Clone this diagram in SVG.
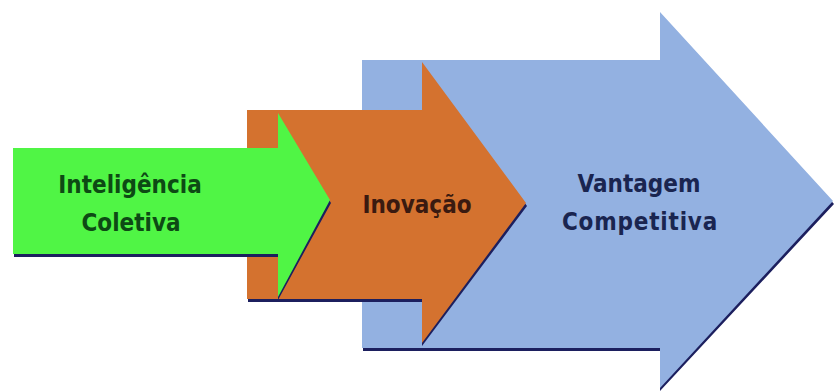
<svg xmlns="http://www.w3.org/2000/svg" width="835" height="392" viewBox="0 0 835 392">
<style>
.sh{fill:#1c1f5e}
.lbl{font-family:"DejaVu Sans Condensed","DejaVu Sans",sans-serif;font-weight:bold;font-size:24px;text-anchor:middle}
</style>
<rect width="835" height="392" fill="#ffffff"/>
<g id="vantagem">
<polygon class="sh" points="363,63 660,63 660,15 834,204 660,391 660,351 363,351"/>
<polygon fill="#93b1e1" points="362,60 660,60 660,12 833,201 660,388 660,348 362,348"/>
<text class="lbl" fill="#1a2550" x="639" y="192">Vantagem</text>
<text class="lbl" fill="#1a2550" x="640" y="230" letter-spacing="0.8">Competitiva</text>
</g>
<g id="inovacao">
<polygon class="sh" points="248,113 422,113 422,65 527,206 422,346 422,302 248,302"/>
<polygon fill="#d4722f" points="247,110 422,110 422,62 526,203 422,343 422,299 247,299"/>
<text class="lbl" fill="#3a1a10" x="417" y="213">Inovação</text>
</g>
<g id="inteligencia">
<polygon class="sh" points="14,151 278,151 278,116 331,203 278,300 278,257 14,257"/>
<polygon fill="#50f545" points="13,148 278,148 278,113 330,200 278,297 278,254 13,254"/>
<text class="lbl" fill="#0d4a14" x="130" y="193">Inteligência</text>
<text class="lbl" fill="#0d4a14" x="131" y="231">Coletiva</text>
</g>
<g id="connectors"></g>
</svg>
